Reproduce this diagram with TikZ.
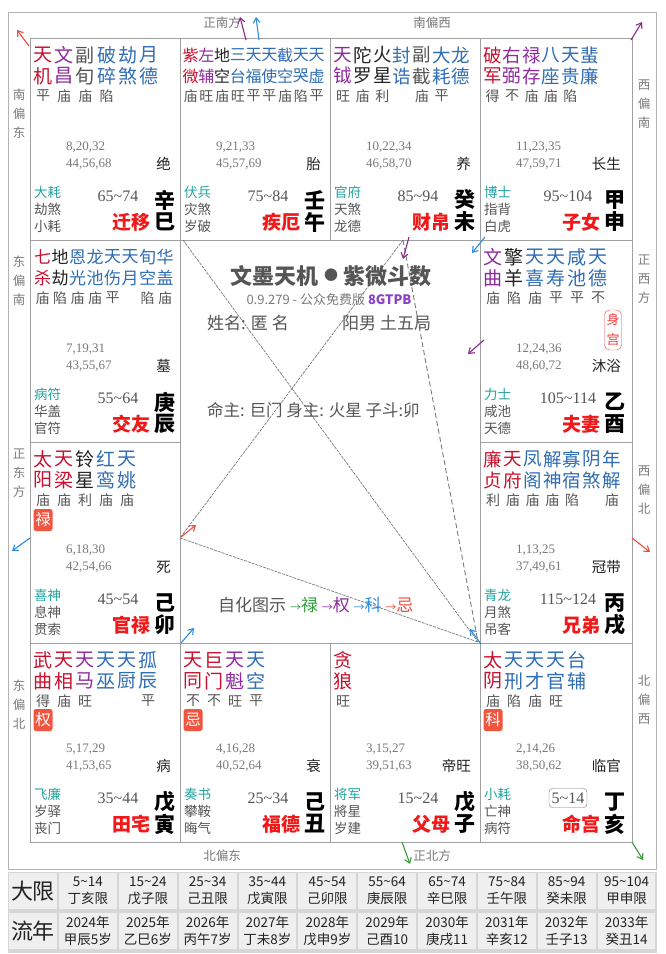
\documentclass[tikz,border=0pt]{standalone}
\usepackage{fontspec}
\setmainfont{Noto Sans CJK SC}
\newfontfamily\numfont{Liberation Serif}
\usetikzlibrary{arrows.meta}
\definecolor{mr}{HTML}{C8102E}
\definecolor{pu}{HTML}{8E2A9E}
\definecolor{bl}{HTML}{2F6DB5}
\definecolor{bk}{HTML}{222222}
\definecolor{gy}{HTML}{555555}
\definecolor{lg}{HTML}{7A7A7A}
\definecolor{tl}{HTML}{22A3A0}
\definecolor{pn}{HTML}{F01818}
\definecolor{badge}{HTML}{F2553F}
\definecolor{gridc}{HTML}{A0A0A0}
\definecolor{gr}{HTML}{2E9E3A}
\definecolor{ar}{HTML}{EE4B3B}
\definecolor{ab}{HTML}{2D8BE0}
\definecolor{ap}{HTML}{8B2A8E}
\definecolor{ag}{HTML}{3A9A3A}
\definecolor{vp}{HTML}{8B3FC8}
\definecolor{tbbg}{HTML}{D6D6D6}
\definecolor{tbcell}{HTML}{EFEFEF}
\newcommand\tld{\textasciitilde}
\tikzset{
  starf/.style={font=\fontsize{#1}{#1}\selectfont, inner sep=0},
  bright/.style={font=\fontsize{14}{14}\selectfont, text=gy, inner sep=0},
  nums/.style={font=\numfont\fontsize{13}{14}\selectfont, text=lg, inner sep=0, anchor=west},
  stage/.style={font=\fontsize{14.5}{15}\selectfont, text=bk, inner sep=0, anchor=east},
  god/.style={font=\fontsize{13.5}{14}\selectfont, text=tl, inner sep=0, anchor=west},
  minor/.style={font=\fontsize{13.5}{14}\selectfont, text=gy, inner sep=0, anchor=west},
  rng/.style={font=\numfont\fontsize{16}{17}\selectfont, text=gy, inner sep=0},
  gz/.style={font=\bfseries\fontsize{21}{22}\selectfont, text=black, inner sep=0},
  pal/.style={font=\bfseries\fontsize{19}{20}\selectfont, text=pn, inner sep=0, anchor=east},
  badgebox/.style={fill=badge, rounded corners=2.5pt, minimum width=19pt, minimum height=22pt, inner sep=0, text=white, font=\fontsize{15.5}{15.5}\selectfont},
  dir/.style={font=\fontsize{12.5}{19}\selectfont, text=lg, inner sep=0, align=center},
  gridline/.style={draw=gridc, line width=0.9pt},
  sanfang/.style={draw=lg, line width=0.7pt, dash pattern=on 3pt off 1pt},
  sanfangd/.style={draw=lg, line width=0.9pt, dash pattern=on 5pt off 3pt},
  fly/.style={line width=1.1pt, -{Straight Barb[length=5pt,width=7pt]}},
  tcell/.style={fill=tbcell, inner sep=0, minimum width=57.8pt, minimum height=36pt, align=center, font=\fontsize{13.5}{17}\selectfont, text=bk},
  thead/.style={fill=tbcell, inner sep=0, minimum width=48pt, minimum height=36pt, font=\fontsize{22}{22}\selectfont, text=bk},
}
\newcommand\starset[7]{%
  \foreach \ta/\tb/\tc/\tr [count=\k] in {#7} {
    \node[starf=#6, text=\tc] (#1t\k) at ({#2+#4+(\k-1)*#5},{#3+17}) {\ta};
    \node[starf=#6, text=\tc] (#1b\k) at ({#2+#4+(\k-1)*#5},{#3+38}) {\tb};
    \node[bright] (#1r\k) at ({#2+#4+(\k-1)*#5},{#3+58}) {\tr};
  }}
\newcommand\pnums[6]{%
  \node[nums] (#1na) at (#2+36,#3-93) {#4};
  \node[nums] (#1nb) at (#2+36,#3-76) {#5};
  \node[stage] (#1sg) at (#2+141,#3-76) {#6};}
\newcommand\pgods[6]{%
  \node[god] (#1g1) at (#2+4,#3-48) {#4};
  \node[minor] (#1g2) at (#2+4,#3-31) {#5};
  \node[minor] (#1g3) at (#2+4,#3-14) {#6};}
\newcommand\pname[7]{%
  \node[rng] (#1rg) at (#2+88,#3-44) {#4};
  \node[gz] (#1st) at (#2+135,#3-40) {#5};
  \node[gz] (#1br) at (#2+135,#3-18) {#6};
  \node[pal] (#1pn) at (#2+121,#3-18) {#7};}
\begin{document}
\begin{tikzpicture}[x=1pt,y=-1pt]
\useasboundingbox (0,0) rectangle (665,954);
\fill[white] (0,0) rectangle (665,954);
% outer frame
\draw[draw=gridc!80, line width=1pt] (8,12) rectangle (656,869);
% grid
\draw[gridline] (30,38) rectangle (632,842);
\draw[gridline] (30,240) -- (632,240);
\draw[gridline] (30,643) -- (632,643);
\draw[gridline] (30,442) -- (180,442);
\draw[gridline] (480,442) -- (632,442);
\draw[gridline] (180,38) -- (180,842);
\draw[gridline] (480,38) -- (480,842);
\draw[gridline] (330,38) -- (330,240);
\draw[gridline] (330,643) -- (330,842);

% direction labels
\node[dir] (dS) at (222,23) {正南方};
\node[dir] (dSW) at (432,23) {南偏西};
\node[dir] (dNE) at (222,856) {北偏东};
\node[dir] (dN) at (432,856) {正北方};
\node[dir] (dSE) at (19,114) {南\\偏\\东};
\node[dir] (dES) at (19,281) {东\\偏\\南};
\node[dir] (dE) at (19,473) {正\\东\\方};
\node[dir] (dEN) at (19,705) {东\\偏\\北};
\node[dir] (dWS) at (644,104) {西\\偏\\南};
\node[dir] (dW) at (644,279) {正\\西\\方};
\node[dir] (dWN) at (644,490) {西\\偏\\北};
\node[dir] (dNW) at (644,700) {北\\偏\\西};

% ---- palaces: stars
\starset{si}{30}{38}{13}{21.2}{19}{天/机/mr/平, 文/昌/pu/庙, 副/旬/gy/庙, 破/碎/bl/陷, 劫/煞/bl/{}, 月/德/bl/{}}
\starset{wu}{180}{38}{10.7}{15.75}{16}{紫/微/mr/庙, 左/辅/pu/旺, 地/空/bk/庙, 三/台/bl/旺, 天/福/bl/平, 天/使/bl/平, 截/空/bl/庙, 天/哭/bl/陷, 天/虚/bl/平}
\starset{wei}{330}{38}{13}{19.7}{18.5}{天/钺/pu/旺, 陀/罗/bk/庙, 火/星/bk/利, 封/诰/bl/{}, 副/截/gy/庙, 大/耗/bl/平, 龙/德/bl/{}}
\starset{shen}{480}{38}{12.7}{19.4}{18.5}{破/军/mr/得, 右/弼/pu/不, 禄/存/pu/庙, 八/座/bl/庙, 天/贵/bl/陷, 蜚/廉/bl/{}}
\starset{chen}{30}{240}{12.7}{17.5}{17}{七/杀/mr/庙, 地/劫/bk/陷, 恩/光/bl/庙, 龙/池/bl/庙, 天/伤/bl/平, 天/月/bl/{}, 旬/空/bl/陷, 华/盖/bl/庙}
\starset{you}{480}{240}{13}{21}{19}{文/曲/pu/庙, 擎/羊/bk/陷, 天/喜/bl/庙, 天/寿/bl/平, 咸/池/bl/平, 天/德/bl/不}
\starset{mao}{30}{442}{13}{21}{19}{太/阳/mr/庙, 天/梁/mr/庙, 铃/星/bk/利, 红/鸾/bl/庙, 天/姚/bl/庙}
\starset{xu}{480}{442}{13}{19.8}{18.5}{廉/贞/mr/利, 天/府/mr/庙, 凤/阁/bl/庙, 解/神/bl/庙, 寡/宿/bl/陷, 阴/煞/bl/{}, 年/解/bl/庙}
\starset{yin}{30}{643}{13}{21}{19}{武/曲/mr/得, 天/相/mr/庙, 天/马/pu/旺, 天/巫/bl/{}, 天/厨/bl/{}, 孤/辰/bl/平}
\starset{chou}{180}{643}{13}{21}{19}{天/同/mr/不, 巨/门/mr/不, 天/魁/pu/旺, 天/空/bl/平}
\starset{zi}{330}{643}{13}{21}{19}{贪/狼/mr/旺}
\starset{hai}{480}{643}{13}{21}{19}{太/阴/mr/庙, 天/刑/bl/陷, 天/才/bl/庙, 天/官/bl/旺, 台/辅/bl/{}}

% badges
\node[badgebox] (maobg) at (43,520) {禄};
\node[badgebox] (yinbg) at (43,720) {权};
\node[badgebox] (choubg) at (193,720) {忌};
\node[badgebox] (haibg) at (493,720) {科};
\node[draw=pn!80, rounded corners=5pt, minimum width=17pt, minimum height=40pt, inner sep=0] (shengong) at (613,330) {};
\node[font=\fontsize{13}{13}\selectfont, text=pn!85, inner sep=0] (shen1) at (613,320) {身};
\node[font=\fontsize{13}{13}\selectfont, text=pn!85, inner sep=0] (shen2) at (613,340) {宫};

% numbers / stage
\pnums{si}{30}{240}{8,20,32}{44,56,68}{绝}
\pnums{wu}{180}{240}{9,21,33}{45,57,69}{胎}
\pnums{wei}{330}{240}{10,22,34}{46,58,70}{养}
\pnums{shen}{480}{240}{11,23,35}{47,59,71}{长生}
\pnums{chen}{30}{442}{7,19,31}{43,55,67}{墓}
\pnums{you}{480}{442}{12,24,36}{48,60,72}{沐浴}
\pnums{mao}{30}{643}{6,18,30}{42,54,66}{死}
\pnums{xu}{480}{643}{1,13,25}{37,49,61}{冠带}
\pnums{yin}{30}{842}{5,17,29}{41,53,65}{病}
\pnums{chou}{180}{842}{4,16,28}{40,52,64}{衰}
\pnums{zi}{330}{842}{3,15,27}{39,51,63}{帝旺}
\pnums{hai}{480}{842}{2,14,26}{38,50,62}{临官}

\pgods{si}{30}{240}{大耗}{劫煞}{小耗}
\pgods{wu}{180}{240}{伏兵}{灾煞}{岁破}
\pgods{wei}{330}{240}{官府}{天煞}{龙德}
\pgods{shen}{480}{240}{博士}{指背}{白虎}
\pgods{chen}{30}{442}{病符}{华盖}{官符}
\pgods{you}{480}{442}{力士}{咸池}{天德}
\pgods{mao}{30}{643}{喜神}{息神}{贯索}
\pgods{xu}{480}{643}{青龙}{月煞}{吊客}
\pgods{yin}{30}{842}{飞廉}{岁驿}{丧门}
\pgods{chou}{180}{842}{奏书}{攀鞍}{晦气}
\pgods{zi}{330}{842}{将军}{將星}{岁建}
\pgods{hai}{480}{842}{小耗}{亡神}{病符}

\pname{si}{30}{240}{65\tld74}{辛}{巳}{迁移}
\pname{wu}{180}{240}{75\tld84}{壬}{午}{疾厄}
\pname{wei}{330}{240}{85\tld94}{癸}{未}{财帛}
\pname{shen}{480}{240}{95\tld104}{甲}{申}{子女}
\pname{chen}{30}{442}{55\tld64}{庚}{辰}{交友}
\pname{you}{480}{442}{105\tld114}{乙}{酉}{夫妻}
\pname{mao}{30}{643}{45\tld54}{己}{卯}{官禄}
\pname{xu}{480}{643}{115\tld124}{丙}{戌}{兄弟}
\pname{yin}{30}{842}{35\tld44}{戊}{寅}{田宅}
\pname{chou}{180}{842}{25\tld34}{己}{丑}{福德}
\pname{zi}{330}{842}{15\tld24}{戊}{子}{父母}
\pname{hai}{480}{842}{5\tld14}{丁}{亥}{命宫}
\node[draw=gy!80, rounded corners=3.5pt, minimum width=38pt, minimum height=19pt, inner sep=0] (mingbox) at (hairg) {};

% ---- center lines
\coordinate (ca) at (183,240);
\coordinate (cb) at (478,642);
\coordinate (cc) at (403,240);
\coordinate (cd) at (180,538);
\draw[sanfang] (ca) -- (cb);
\draw[sanfang] (cc) -- (cd);
\draw[sanfang] (cd) -- (cb);
\draw[sanfangd] (cc) -- (cb);

% ---- center text
\node[font=\bfseries\fontsize{22}{24}\selectfont, text=gy, inner sep=0] (title) at (331,276) {文墨天机 \raisebox{3.5pt}{\fontsize{14}{14}\selectfont ●} 紫微斗数};
\node[font=\fontsize{13}{14}\selectfont, text=lg, inner sep=0] (ver) at (329,300) {0.9.279 - 公众免费版 \textcolor{vp}{\bfseries 8GTPB}};
\node[anchor=west, font=\fontsize{17}{18}\selectfont, text=gy, inner sep=0] (xm) at (207,323) {姓名: 匿 名};
\node[anchor=west, font=\fontsize{17}{18}\selectfont, text=gy, inner sep=0] (xb) at (342,323) {阳男 土五局};
\node[anchor=west, font=\fontsize{16.5}{18}\selectfont, text=gy, inner sep=0] (mz) at (207,410) {命主: 巨门 身主: 火星 子斗:卯};
\node[anchor=west, font=\fontsize{17}{18}\selectfont, text=gy, inner sep=0] (zh) at (218,605) {自化图示 {\color{gr}{\fontsize{11}{12}\selectfont →}禄} {\color{pu}{\fontsize{11}{12}\selectfont →}权} {\color{ab}{\fontsize{11}{12}\selectfont →}科} {\color{ar}{\fontsize{11}{12}\selectfont →}忌}};

% ---- flying arrows
\coordinate (a1s) at (29,46);   \coordinate (a1e) at (17,30);
\coordinate (a2s) at (246,40);  \coordinate (a2e) at (240,17);
\coordinate (a3s) at (259,40);  \coordinate (a3e) at (256,17);
\coordinate (a4s) at (631,40);  \coordinate (a4e) at (642,22);
\coordinate (a5s) at (30,538);  \coordinate (a5e) at (12,551);
\coordinate (a6s) at (632,538); \coordinate (a6e) at (650,552);
\coordinate (a7s) at (402,842); \coordinate (a7e) at (410,864);
\coordinate (a8s) at (632,842); \coordinate (a8e) at (643,860);
\coordinate (a9s) at (409,237); \coordinate (a9e) at (403,259);
\coordinate (a10s) at (485,237); \coordinate (a10e) at (472,253);
\coordinate (a11s) at (484,340); \coordinate (a11e) at (468,354);
\coordinate (a12s) at (181,537); \coordinate (a12e) at (196,525);
\coordinate (a13s) at (181,643); \coordinate (a13e) at (194,628);
\coordinate (a14s) at (481,644); \coordinate (a14e) at (470,629);
\draw[fly, ar] (a1s) -- (a1e);
\draw[fly, ap] (a2s) -- (a2e);
\draw[fly, ab] (a3s) -- (a3e);
\draw[fly, ap] (a4s) -- (a4e);
\draw[fly, ab] (a5s) -- (a5e);
\draw[fly, ar] (a6s) -- (a6e);
\draw[fly, ag] (a7s) -- (a7e);
\draw[fly, ag] (a8s) -- (a8e);
\draw[fly, ap] (a9s) -- (a9e);
\draw[fly, ab] (a10s) -- (a10e);
\draw[fly, ap] (a11s) -- (a11e);
\draw[fly, ar] (a12s) -- (a12e);
\draw[fly, ab] (a13s) -- (a13e);
\draw[fly, ab] (a14s) -- (a14e);

% ---- table
\fill[tbbg] (8,872) rectangle (657,953);
\node[thead] (h1) at (33,891) {大限};
\node[thead] (h2) at (33,931) {流年};
\foreach \ra/\rb [count=\i] in {5\tld14/丁亥限, 15\tld24/戊子限, 25\tld34/己丑限, 35\tld44/戊寅限, 45\tld54/己卯限, 55\tld64/庚辰限, 65\tld74/辛巳限, 75\tld84/壬午限, 85\tld94/癸未限, 95\tld104/甲申限}
  \node[tcell] (dx\i) at ({58+59.85*(\i-0.5)},891) {\ra\\\rb};
\foreach \ra/\rb [count=\i] in {2024年/甲辰5岁, 2025年/乙巳6岁, 2026年/丙午7岁, 2027年/丁未8岁, 2028年/戊申9岁, 2029年/己酉10, 2030年/庚戌11, 2031年/辛亥12, 2032年/壬子13, 2033年/癸丑14}
  \node[tcell] (ln\i) at ({58+59.85*(\i-0.5)},931) {\ra\\\rb};
\end{tikzpicture}
\end{document}
